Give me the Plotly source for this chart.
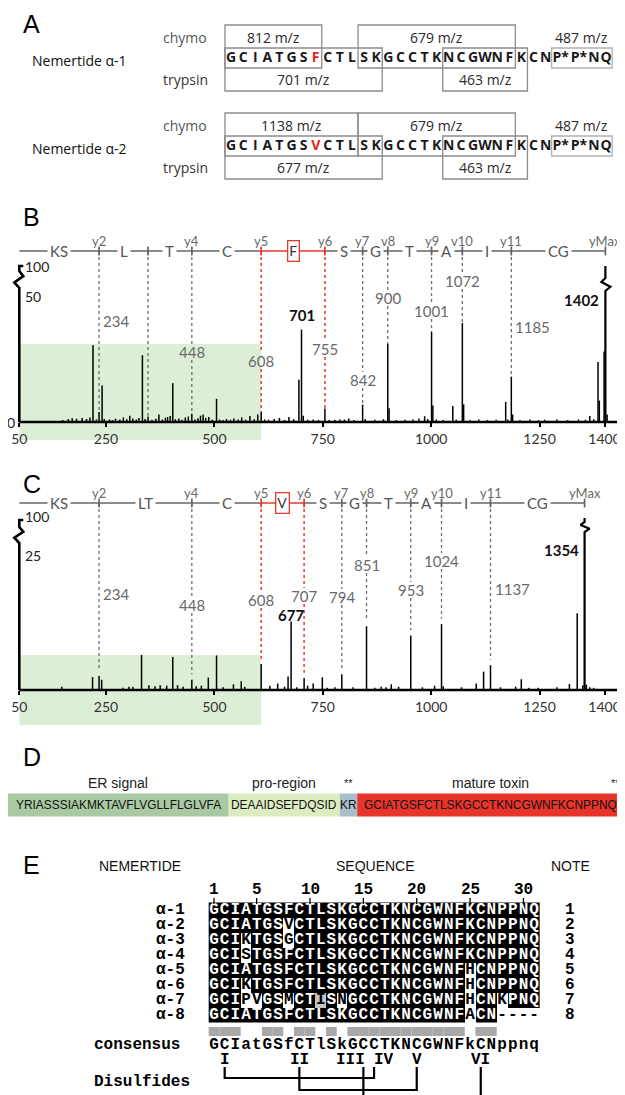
import plotly.graph_objects as go

W, H = 625, 1095

# ======================= DATA =======================
# ---- Panel A : fragment map of nemertide alpha-1 / alpha-2 ----
seq_alpha1 = ["G", "C", "I", "A", "T", "G", "S", "F", "C", "T", "L", "S", "K", "G", "C", "C",
              "T", "K", "N", "C", "G", "W", "N", "F", "K", "C", "N", "P*", "P*", "N", "Q"]
seq_alpha2 = ["G", "C", "I", "A", "T", "G", "S", "V", "C", "T", "L", "S", "K", "G", "C", "C",
              "T", "K", "N", "C", "G", "W", "N", "F", "K", "C", "N", "P*", "P*", "N", "Q"]
variant_site = 8
chymo_alpha1 = [(1, 8, "812 m/z"), (12, 24, "679 m/z")]
chymo_alpha2 = [(1, 11, "1138 m/z"), (12, 24, "679 m/z")]
ctail_frag = (28, 31, "487 m/z")
tryp_alpha1 = [(1, 13, "701 m/z"), (19, 25, "463 m/z")]
tryp_alpha2 = [(1, 13, "677 m/z"), (19, 25, "463 m/z")]

# ---- Panel B : MS/MS of alpha-1 (m/z, relative intensity %) ----
peaks_b = [(150, 0.8), (163, 1.2), (172, 1.5), (182, 1.3), (195, 1.6), (205, 1.2), (213, 1.8),
           (220, 30.5), (228, 1.0), (234, 4.0), (241, 14.5), (246, 1.2), (258, 1.0), (265, 0.8),
           (272, 1.3), (282, 1.0), (290, 1.8), (298, 1.1), (305, 2.5), (312, 1.4), (320, 1.0),
           (326, 1.6), (334, 26.5), (340, 1.2), (347, 2.2), (356, 0.9), (365, 1.3), (372, 3.0),
           (380, 1.0), (387, 1.7), (392, 2.0), (398, 2.4), (404, 15.4), (410, 1.1), (418, 1.4),
           (425, 0.9), (433, 1.8), (440, 2.2), (448, 3.3), (455, 1.0), (462, 1.5), (468, 2.5),
           (474, 3.0), (480, 1.6), (487, 2.0), (495, 0.9), (505, 9.2), (512, 1.0), (520, 0.8),
           (528, 1.2), (537, 0.9), (545, 1.4), (555, 1.0), (563, 1.8), (572, 0.9), (582, 2.4),
           (592, 1.1), (600, 3.0), (608, 4.0), (616, 1.0), (625, 0.9), (638, 1.2), (650, 1.6),
           (662, 0.8), (672, 2.0), (683, 1.1), (695, 16.8), (701, 36.7), (705, 2.5), (715, 0.9),
           (728, 1.0), (740, 0.8), (755, 5.4), (765, 0.8), (778, 0.9), (790, 1.0), (800, 1.0),
           (810, 1.4), (822, 0.8), (842, 6.9), (848, 1.2), (870, 0.9), (890, 1.1), (900, 31.0),
           (903, 5.5), (920, 0.8), (940, 0.9), (958, 1.0), (972, 1.4), (985, 2.3), (992, 1.2),
           (1001, 35.7), (1004, 6.5), (1012, 1.0), (1028, 0.8), (1050, 6.3), (1058, 0.9),
           (1072, 39.3), (1075, 7.0), (1090, 0.8), (1110, 1.0), (1130, 0.8), (1150, 0.9),
           (1172, 8.0), (1177, 1.0), (1185, 18.0), (1188, 3.0), (1205, 0.8), (1228, 1.0),
           (1248, 0.7), (1262, 0.9), (1290, 1.0), (1315, 0.8), (1340, 1.0), (1356, 0.9),
           (1366, 2.4), (1375, 1.1), (1385, 23.8), (1388, 8.5), (1399, 28.0), (1402, 100.0),
           (1406, 3.0)]
ions_b = [50, 234, 347, 448, 608, 755, 842, 900, 1001, 1072, 1185, 1402]
tags_b = ["", "y2", "", "y4", "y5", "y6", "y7", "v8", "y9", "v10", "y11", "yMax"]
res_b = ["KS", "L", "T", "C", "F", "S", "G", "T", "A", "I", "CG"]

# ---- Panel C : MS/MS of alpha-2 ----
peaks_c = [(148, 0.6), (219, 2.4), (234, 2.6), (240, 1.9), (289, 0.4), (303, 0.6), (312, 0.6),
           (332, 6.5), (349, 0.9), (363, 0.7), (375, 0.9), (390, 0.8), (404, 6.1), (415, 0.9),
           (428, 0.6), (448, 1.9), (458, 0.7), (470, 0.8), (486, 2.3), (505, 6.4), (520, 0.5),
           (544, 1.05), (562, 1.6), (570, 0.6), (608, 4.8), (628, 0.8), (646, 1.2), (662, 0.6),
           (670, 2.5), (677, 12.7), (690, 0.5), (707, 2.2), (715, 0.8), (728, 1.2), (749, 2.35),
           (760, 0.4), (778, 0.5), (794, 2.9), (820, 0.5), (851, 11.8), (870, 0.4), (885, 0.6),
           (896, 0.5), (908, 1.05), (925, 0.6), (953, 10.1), (980, 0.5), (1008, 0.8), (1024, 12.2),
           (1028, 0.7), (1070, 0.5), (1104, 1.2), (1121, 3.4), (1137, 4.6), (1160, 0.5),
           (1195, 0.6), (1208, 2.0), (1225, 0.4), (1247, 0.4), (1290, 0.5), (1319, 1.1),
           (1337, 14.2), (1350, 0.9), (1354, 100.0), (1358, 1.0), (1366, 0.5), (1375, 0.4)]
ions_c = [50, 234, 448, 608, 707, 794, 851, 953, 1024, 1137, 1354]
tags_c = ["", "y2", "y4", "y5", "y6", "y7", "y8", "y9", "y10", "y11", "yMax"]
res_c = ["KS", "LT", "C", "V", "S", "G", "T", "A", "I", "CG"]

x_ticks = [50, 250, 500, 750, 1000, 1250, 1400]

# ---- Panel D : precursor organisation ----
segments_d = ["YRIASSSIAKMKTAVFLVGLLFLGLVFA", "DEAAIDSEFDQSID", "KR",
              "GCIATGSFCTLSKGCCTKNCGWNFKCNPPNQ", "K"]
labels_d = ["ER signal", "pro-region", "**", "mature toxin", "***"]
colors_d = ["#a9c9a2", "#dbedc0", "#a8bfcb", "#e8352c", "#a8bfcb"]

# ---- Panel E : alignment ----
names_e = ["α-1", "α-2", "α-3", "α-4", "α-5", "α-6", "α-7", "α-8"]
seqs_e = ["GCIATGSFCTLSKGCCTKNCGWNFKCNPPNQ",
          "GCIATGSVCTLSKGCCTKNCGWNFKCNPPNQ",
          "GCIKTGSGCTLSKGCCTKNCGWNFKCNPPNQ",
          "GCISTGSFCTLSKGCCTKNCGWNFKCNPPNQ",
          "GCIATGSFCTLSKGCCTKNCGWNFHCNPPNQ",
          "GCIKTGSFCTLSKGCCTKNCGWNFHCNPPNQ",
          "GCIPVGSMCTISNGCCTKNCGWNFHCNKPNQ",
          "GCIATGSFCTLSKGCCTKNCGWNFACN----"]
notes_e = ["1", "2", "3", "4", "5", "6", "7", "8"]
similar_e = [(7, 11)]          # (row, position) shaded grey
consensus_e = "GCIatGSfCTlSkGCCTKNCGWNFkCNppnq"
ruler_e = [1, 5, 10, 15, 20, 25, 30]
cys_labels = ["I", "II", "III", "IV", "V", "VI"]
cys_pos = [2, 9, 15, 16, 20, 26]
bonds = [(0, 3), (1, 4), (2, 5)]

# ======================= HELPERS =======================
def pyp(p):
    return 1 - p / H


LATO = "Lato, Carlito, sans-serif"
SANS = "Liberation Sans, Arial, sans-serif"
OPEN = "Open Sans, Noto Sans, sans-serif"
MONO = "Liberation Mono, Courier New, monospace"

fig = go.Figure()
shapes, annos = [], []


def anno(**kw):
    d = dict(showarrow=False, xanchor="center", yanchor="middle")
    d.update(kw)
    annos.append(d)


# panel letters
for letter, yy in [("A", 16), ("B", 209), ("C", 476), ("D", 749), ("E", 857)]:
    anno(text=letter, x=24 / W, y=pyp(yy), xref="paper", yref="paper",
         font=dict(family=SANS, size=25, color="black"))

# ======================= PANEL A =======================
A_X0, A_DX = 223.0, 12.1


def token_layout(tokens):
    centers, edges, pos = [], [], 0.0
    for t in tokens:
        w = 1.5 if len(t) > 1 else 1.0
        centers.append(pos + w / 2)
        edges.append((pos, pos + w))
        pos += w
    return centers, edges


BOX = "#8c8c8c"
rows_a = [(seq_alpha1, chymo_alpha1, tryp_alpha1, "Nemertide α-1", 50),
          (seq_alpha2, chymo_alpha2, tryp_alpha2, "Nemertide α-2", 138)]
for seq, chymo, tryp, name, ys in rows_a:
    centers, edges = token_layout(seq)
    cols = ["#e8231a" if i == variant_site - 1 else "#1a1a1a" for i in range(len(seq))]
    fig.add_trace(go.Scatter(x=centers, y=[ys] * len(seq), text=seq, mode="text",
                             textfont=dict(family=OPEN, size=14, color=cols, weight="bold"),
                             xaxis="x2", yaxis="y2", hoverinfo="skip", cliponaxis=False))
    for s, e, lab in chymo:
        x0, x1 = edges[s - 1][0], edges[e - 1][1]
        shapes.append(dict(type="rect", xref="x2", yref="y2", x0=x0, x1=x1, y0=ys - 33, y1=ys + 10,
                           line=dict(color=BOX, width=1.3)))
        anno(text=lab, x=(x0 + x1) / 2, y=ys - 21, xref="x2", yref="y2",
             font=dict(family=OPEN, size=14, color="#2a2a2a"))
    s, e, lab = ctail_frag
    x0, x1 = edges[s - 1][0], edges[e - 1][1]
    shapes.append(dict(type="rect", xref="x2", yref="y2", x0=x0, x1=x1, y0=ys - 10, y1=ys + 10,
                       line=dict(color="#b0b0b0", width=1.3)))
    anno(text=lab, x=(x0 + x1) / 2, y=ys - 21, xref="x2", yref="y2",
         font=dict(family=OPEN, size=14, color="#2a2a2a"))
    for s, e, lab in tryp:
        x0, x1 = edges[s - 1][0], edges[e - 1][1]
        shapes.append(dict(type="rect", xref="x2", yref="y2", x0=x0, x1=x1, y0=ys - 10, y1=ys + 33,
                           line=dict(color=BOX, width=1.3)))
        anno(text=lab, x=(x0 + x1) / 2, y=ys + 21, xref="x2", yref="y2",
             font=dict(family=OPEN, size=14, color="#2a2a2a"))
    anno(text="chymo", x=177 / W, y=ys - 21, xref="paper", yref="y2",
         font=dict(family=OPEN, size=14, color="#555"))
    anno(text="trypsin", x=177 / W, y=ys + 21, xref="paper", yref="y2",
         font=dict(family=OPEN, size=14, color="#333"))
    anno(text=name, x=71 / W, y=ys + 2, xref="paper", yref="y2",
         font=dict(family=OPEN, size=14, color="#111"))

# ======================= PANELS B, C =======================
K = 0.4335           # px per m/z unit
SPX_L = 11.3         # pixel of m/z 50
x_range = [50 - SPX_L / K, 50 + (618 - SPX_L) / K]


def MX(dx):
    return dx / K


def zig(lo, hi, sgn=1):
    h = lo - hi
    return [(0, lo), (-5 * sgn, lo - 0.33 * h), (4 * sgn, lo - 0.7 * h), (0, hi)]


def spectrum(xr, yr, base, sc, peaks, ions, tags, residues, mod,
             ladder_px, tag_px, lab_px, lab_side, bold_labs, green_px,
             axis_brk, peak_brk, axis_labels, gap):
    def U(p):
        return (base - p) / sc

    inten = dict(peaks)
    lo_p, hi_p, cap_p = peak_brk
    shapes.append(dict(type="rect", xref=xr, yref=yr, x0=50, x1=608, y0=U(green_px[1]),
                       y1=U(green_px[0]), fillcolor="#dcefd6", line=dict(width=0), layer="below"))
    fig.add_trace(go.Scatter(x=[50, x_range[1]], y=[0, 0], mode="lines",
                             line=dict(color="black", width=2.6), xaxis=xr, yaxis=yr, hoverinfo="skip"))
    xs, ys = [], []
    for m, v in peaks:
        if v > U(lo_p):
            px_pts = [(0, base)] + zig(lo_p, hi_p, -1) + [(0, cap_p)]
            fig.add_trace(go.Scatter(x=[m + MX(dx) for dx, _ in px_pts], y=[U(p) for _, p in px_pts],
                                     mode="lines", line=dict(color="black", width=2.2),
                                     xaxis=xr, yaxis=yr, hoverinfo="skip"))
        else:
            xs += [m, m, None]
            ys += [0, v, None]
    fig.add_trace(go.Scatter(x=xs, y=ys, mode="lines", line=dict(color="black", width=1.5),
                             xaxis=xr, yaxis=yr, hoverinfo="skip"))
    lo, hi, top = axis_brk
    pts = [(0, base)] + zig(lo, hi) + [(0, top), (4, top)]
    fig.add_trace(go.Scatter(x=[50 + MX(dx) for dx, _ in pts], y=[U(p) for _, p in pts],
                             mode="lines", line=dict(color="black", width=2.6),
                             xaxis=xr, yaxis=yr, hoverinfo="skip"))
    for txt, p, side in axis_labels:
        if side == "r":
            anno(text=txt, x=50 + MX(4), y=U(p), xref=xr, yref=yr, xanchor="left",
                 font=dict(family=LATO, size=14, color="#222"))
        else:
            anno(text=txt, x=50 - MX(2), y=U(p), xref=xr, yref=yr, xanchor="right",
                 font=dict(family=LATO, size=14, color="#222"))
    L = U(ladder_px)
    gx, gy, rx, ry = [], [], [], []
    for i in range(len(residues)):
        if i == mod:
            rx += [ions[i], ions[i + 1], None]
            ry += [L, L, None]
        else:
            gx += [ions[i], ions[i + 1], None]
            gy += [L, L, None]
    tick = 4.5 / sc
    for j in range(1, len(ions)):
        if j in (mod, mod + 1):
            rx += [ions[j], ions[j], None]
            ry += [L - tick, L + tick, None]
        else:
            gx += [ions[j], ions[j], None]
            gy += [L - tick, L + tick, None]
    dgx, dgy, drx, dry = [], [], [], []
    for k, ion in enumerate(ions[1:-1]):
        j = k + 1
        near = min(inten, key=lambda mm: abs(mm - ion))
        end = inten[near] + gap
        segs = [(L, end)]
        if lab_side[k] == "c":
            segs = [(L, U(lab_px[k] - 8)), (U(lab_px[k] + 8), end)]
        for a, b in segs:
            if a > b:
                if j in (mod, mod + 1):
                    drx += [ion, ion, None]
                    dry += [a, b, None]
                else:
                    dgx += [ion, ion, None]
                    dgy += [a, b, None]
        if lab_px[k] is not None:
            if lab_side[k] == "r":
                anno(text=str(ion), x=ion + MX(2), y=U(lab_px[k]), xref=xr, yref=yr, xanchor="left",
                     font=dict(family=LATO, size=15, color="#6a6a6a"))
            else:
                anno(text=str(ion), x=ion, y=U(lab_px[k]), xref=xr, yref=yr,
                     font=dict(family=LATO, size=15, color="#6a6a6a"))
    fig.add_trace(go.Scatter(x=dgx, y=dgy, mode="lines", line=dict(color="#6e6e6e", width=1.3, dash="dot"),
                             xaxis=xr, yaxis=yr, hoverinfo="skip"))
    fig.add_trace(go.Scatter(x=drx, y=dry, mode="lines", line=dict(color="#e8392f", width=1.5, dash="dot"),
                             xaxis=xr, yaxis=yr, hoverinfo="skip"))
    fig.add_trace(go.Scatter(x=gx, y=gy, mode="lines", line=dict(color="#666", width=1.7),
                             xaxis=xr, yaxis=yr, hoverinfo="skip"))
    fig.add_trace(go.Scatter(x=rx, y=ry, mode="lines", line=dict(color="#e8392f", width=1.7),
                             xaxis=xr, yaxis=yr, hoverinfo="skip"))
    for i, r in enumerate(residues):
        mid = (ions[i] + ions[i + 1]) / 2
        if i == mod:
            anno(text=r, x=mid, y=L, xref=xr, yref=yr, bgcolor="white", bordercolor="#e8392f",
                 borderwidth=1.3, borderpad=1, font=dict(family=LATO, size=14, color="#333"))
        else:
            anno(text=r, x=mid, y=L, xref=xr, yref=yr, bgcolor="white", borderpad=2,
                 font=dict(family=LATO, size=15, color="#555"))
    for j in range(1, len(ions)):
        if tags[j]:
            anno(text=tags[j], x=ions[j], y=U(tag_px), xref=xr, yref=yr,
                 font=dict(family=LATO, size=13, color="#6a6a6a"))
    for m, p, side in bold_labs:
        if side == "c":
            anno(text=str(m), x=m, y=U(p), xref=xr, yref=yr,
                 font=dict(family=LATO, size=15, color="#111", weight="bold"))
        else:
            anno(text=str(m), x=m - MX(4), y=U(p), xref=xr, yref=yr, xanchor="right",
                 font=dict(family=LATO, size=15, color="#111", weight="bold"))


B_BASE, B_SC = 414.0, 2.52
C_BASE, C_SC = 682.0, 5.4

spectrum("x", "y", B_BASE, B_SC, peaks_b, ions_b, tags_b, res_b, 4,
         ladder_px=243, tag_px=233,
         lab_px=[313, None, 344, 353, 341, 372, 290, 303, 273, 319],
         lab_side=["r", None, "c", "c", "c", "c", "c", "c", "c", "r"],
         bold_labs=[(701, 307, "c"), (1402, 292, "l")],
         green_px=(336, 432), axis_brk=(280, 263, 258), peak_brk=(283, 270, 258),
         axis_labels=[("100", 258, "r"), ("50", 288, "r"), ("0", 414, "l")], gap=0)

spectrum("x3", "y3", C_BASE, C_SC, peaks_c, ions_c, tags_c, res_c, 3,
         ladder_px=495, tag_px=485,
         lab_px=[586, 597, 592, 588, 589, 557, 582, 553, 581],
         lab_side=["r", "c", "c", "c", "c", "c", "c", "c", "r"],
         bold_labs=[(677, 607, "c"), (1354, 542, "l")],
         green_px=(647, 717), axis_brk=(535, 519, 512), peak_brk=(524, 514, 510),
         axis_labels=[("100", 508, "r"), ("25", 547, "r")], gap=1.0)

# ======================= PANEL D =======================
ARIAL_W = {'A': .667, 'C': .722, 'D': .722, 'E': .667, 'F': .611, 'G': .778, 'I': .278, 'K': .667,
           'L': .556, 'M': .833, 'N': .722, 'P': .667, 'Q': .778, 'R': .722, 'S': .667, 'T': .611,
           'V': .667, 'W': .944, 'Y': .667}
em_w = [sum(ARIAL_W[c] for c in s) for s in segments_d]
starts, acc = [], 0.0
for w in em_w:
    starts.append(acc)
    acc += w
total_em = acc
fig.add_trace(go.Bar(x=em_w, y=[797] * len(em_w), base=starts, orientation="h", width=23,
                     marker=dict(color=colors_d, line=dict(width=0)), xaxis="x4", yaxis="y4",
                     hoverinfo="skip"))
fs_d = W / total_em * 0.95
for s, st, w, lab in zip(segments_d, starts, em_w, labels_d):
    if st + w >= total_em:
        anno(text=s, x=total_em * 0.9935, y=797, xref="x4", yref="y4", xanchor="right",
             font=dict(family=SANS, size=fs_d, color="#111"))
        anno(text=lab, x=total_em * 0.99, y=775, xref="x4", yref="y4", xanchor="right",
             font=dict(family=SANS, size=11, color="#222"))
    else:
        anno(text=s, x=st + w / 2, y=797, xref="x4", yref="y4",
             font=dict(family=SANS, size=fs_d, color="#111"))
        anno(text=lab, x=st + w / 2, y=775, xref="x4", yref="y4",
             font=dict(family=SANS, size=14 if len(lab) > 3 else 11, color="#222"))

# ======================= PANEL E =======================
E_X0, E_DX = 206.0, 10.67
E_Y0, E_DY = 902.0, 15.0


def EC(p):
    return 1 + (p - E_X0) / E_DX


def ER(p):
    return 1 + (p - E_Y0) / E_DY


npos = len(seqs_e[0])
shade = []
for r, s in enumerate(seqs_e):
    shade.append([1.0 if ch == seqs_e[0][c] else 0.0 for c, ch in enumerate(s)])
for r, c in similar_e:
    shade[r - 1][c - 1] = 0.5
fig.add_trace(go.Heatmap(x=list(range(1, npos + 1)), y=list(range(1, len(seqs_e) + 1)), z=shade,
                         colorscale=[[0, "white"], [0.5, "#c4c4c4"], [1, "black"]], zmin=0, zmax=1,
                         showscale=False, xaxis="x5", yaxis="y5", hoverinfo="skip"))
tx, ty, tt, tc = [], [], [], []
for r, s in enumerate(seqs_e):
    for c, ch in enumerate(s):
        tx.append(c + 1)
        ty.append(r + 1)
        tt.append(ch)
        tc.append("white" if shade[r][c] == 1.0 else "black")
fig.add_trace(go.Scatter(x=tx, y=ty, text=tt, mode="text",
                         textfont=dict(family=MONO, size=16, color=tc, weight="bold"),
                         xaxis="x5", yaxis="y5", hoverinfo="skip", cliponaxis=False))
cons_pos = [i + 1 for i, ch in enumerate(consensus_e) if ch.isupper()]
fig.add_trace(go.Bar(x=cons_pos, y=[ER(1028) - ER(1019)] * len(cons_pos), base=[ER(1019)] * len(cons_pos),
                     width=1, marker=dict(color="#a8a8a8", line=dict(width=0)),
                     xaxis="x5", yaxis="y5", hoverinfo="skip"))
fig.add_trace(go.Scatter(x=list(range(1, npos + 1)), y=[ER(1037)] * npos, text=list(consensus_e),
                         mode="text", textfont=dict(family=MONO, size=16, color="black", weight="bold"),
                         xaxis="x5", yaxis="y5", hoverinfo="skip", cliponaxis=False))
for name, note, r in zip(names_e, notes_e, range(1, len(names_e) + 1)):
    anno(text=name, x=EC(179), y=r, xref="x5", yref="y5", xanchor="right",
         font=dict(family=MONO, size=16, color="black", weight="bold"))
    anno(text=note, x=EC(562), y=r, xref="x5", yref="y5",
         font=dict(family=MONO, size=16, color="black", weight="bold"))
for p in ruler_e:
    anno(text=str(p), x=p, y=ER(882), xref="x5", yref="y5",
         font=dict(family=MONO, size=16, color="black", weight="bold"))
    shapes.append(dict(type="line", xref="x5", yref="y5", x0=p, x1=p, y0=ER(890), y1=ER(896),
                       line=dict(color="black", width=1.3)))
anno(text="consensus", x=EC(84), y=ER(1037), xref="x5", yref="y5", xanchor="left",
     font=dict(family=MONO, size=16, color="black", weight="bold"))
anno(text="Disulfides", x=EC(84), y=ER(1074), xref="x5", yref="y5", xanchor="left",
     font=dict(family=MONO, size=16, color="black", weight="bold"))
for lab, p in zip(cys_labels, cys_pos):
    if lab == "III":
        anno(text=lab, x=p + 0.35, y=ER(1052), xref="x5", yref="y5", xanchor="right",
             font=dict(family=MONO, size=16, color="black", weight="bold"))
    elif lab == "IV":
        anno(text=lab, x=p - 0.2, y=ER(1052), xref="x5", yref="y5", xanchor="left",
             font=dict(family=MONO, size=16, color="black", weight="bold"))
    else:
        anno(text=lab, x=p, y=ER(1052), xref="x5", yref="y5",
             font=dict(family=MONO, size=16, color="black", weight="bold"))
levels = [ER(1070), ER(1082), ER(1092)]
for (a, b), lv in zip(bonds, levels):
    xa, xb = cys_pos[a], cys_pos[b]
    shapes.append(dict(type="path", xref="x5", yref="y5",
                       path=f"M {xa},{ER(1059)} L {xa},{lv} L {xb},{lv} L {xb},{ER(1059)}",
                       line=dict(color="black", width=2.2)))
for txt, xp in [("NEMERTIDE", 132), ("SEQUENCE", 367), ("NOTE", 562)]:
    anno(text=txt, x=xp / W, y=pyp(858), xref="paper", yref="paper",
         font=dict(family=SANS, size=14, color="#111"))

# ======================= LAYOUT =======================
hidden = dict(visible=False, showgrid=False, zeroline=False, fixedrange=True)


def spec_x(base_px):
    return dict(domain=[0, 618 / W], range=x_range, anchor="free", position=pyp(base_px),
                showline=False, showgrid=False, zeroline=False, ticks="outside", ticklen=4,
                tickwidth=1.5, tickcolor="black", tickvals=x_ticks,
                tickfont=dict(family=LATO, size=14, color="#333"), fixedrange=True)


layout = dict(
    width=W, height=H, margin=dict(l=0, r=0, t=0, b=0), paper_bgcolor="white",
    plot_bgcolor="rgba(0,0,0,0)", showlegend=False, shapes=shapes, annotations=annos,
    barmode="overlay",
    xaxis=spec_x(B_BASE),
    yaxis=dict(hidden, domain=[pyp(436), pyp(226)], range=[(B_BASE - 436) / B_SC, (B_BASE - 226) / B_SC],
               anchor="x"),
    xaxis3=spec_x(C_BASE),
    yaxis3=dict(hidden, domain=[pyp(724), pyp(478)], range=[(C_BASE - 724) / C_SC, (C_BASE - 478) / C_SC],
                anchor="x3"),
    xaxis2=dict(hidden, domain=[0, 1], range=[0.5 - A_X0 / A_DX, 0.5 + (W - A_X0) / A_DX], anchor="y2"),
    yaxis2=dict(hidden, domain=[pyp(200), 1], range=[200, 0], anchor="x2"),
    xaxis4=dict(hidden, domain=[0, 1], range=[0, total_em], anchor="y4"),
    yaxis4=dict(hidden, domain=[pyp(815), pyp(740)], range=[815, 740], anchor="x4"),
    xaxis5=dict(hidden, domain=[0, 1], range=[EC(0), EC(W)], anchor="y5"),
    yaxis5=dict(hidden, domain=[0, pyp(840)], range=[ER(H), ER(840)], anchor="x5"),
)
fig.update_layout(**layout)
fig.write_html("out.html", config={"displayModeBar": False})
